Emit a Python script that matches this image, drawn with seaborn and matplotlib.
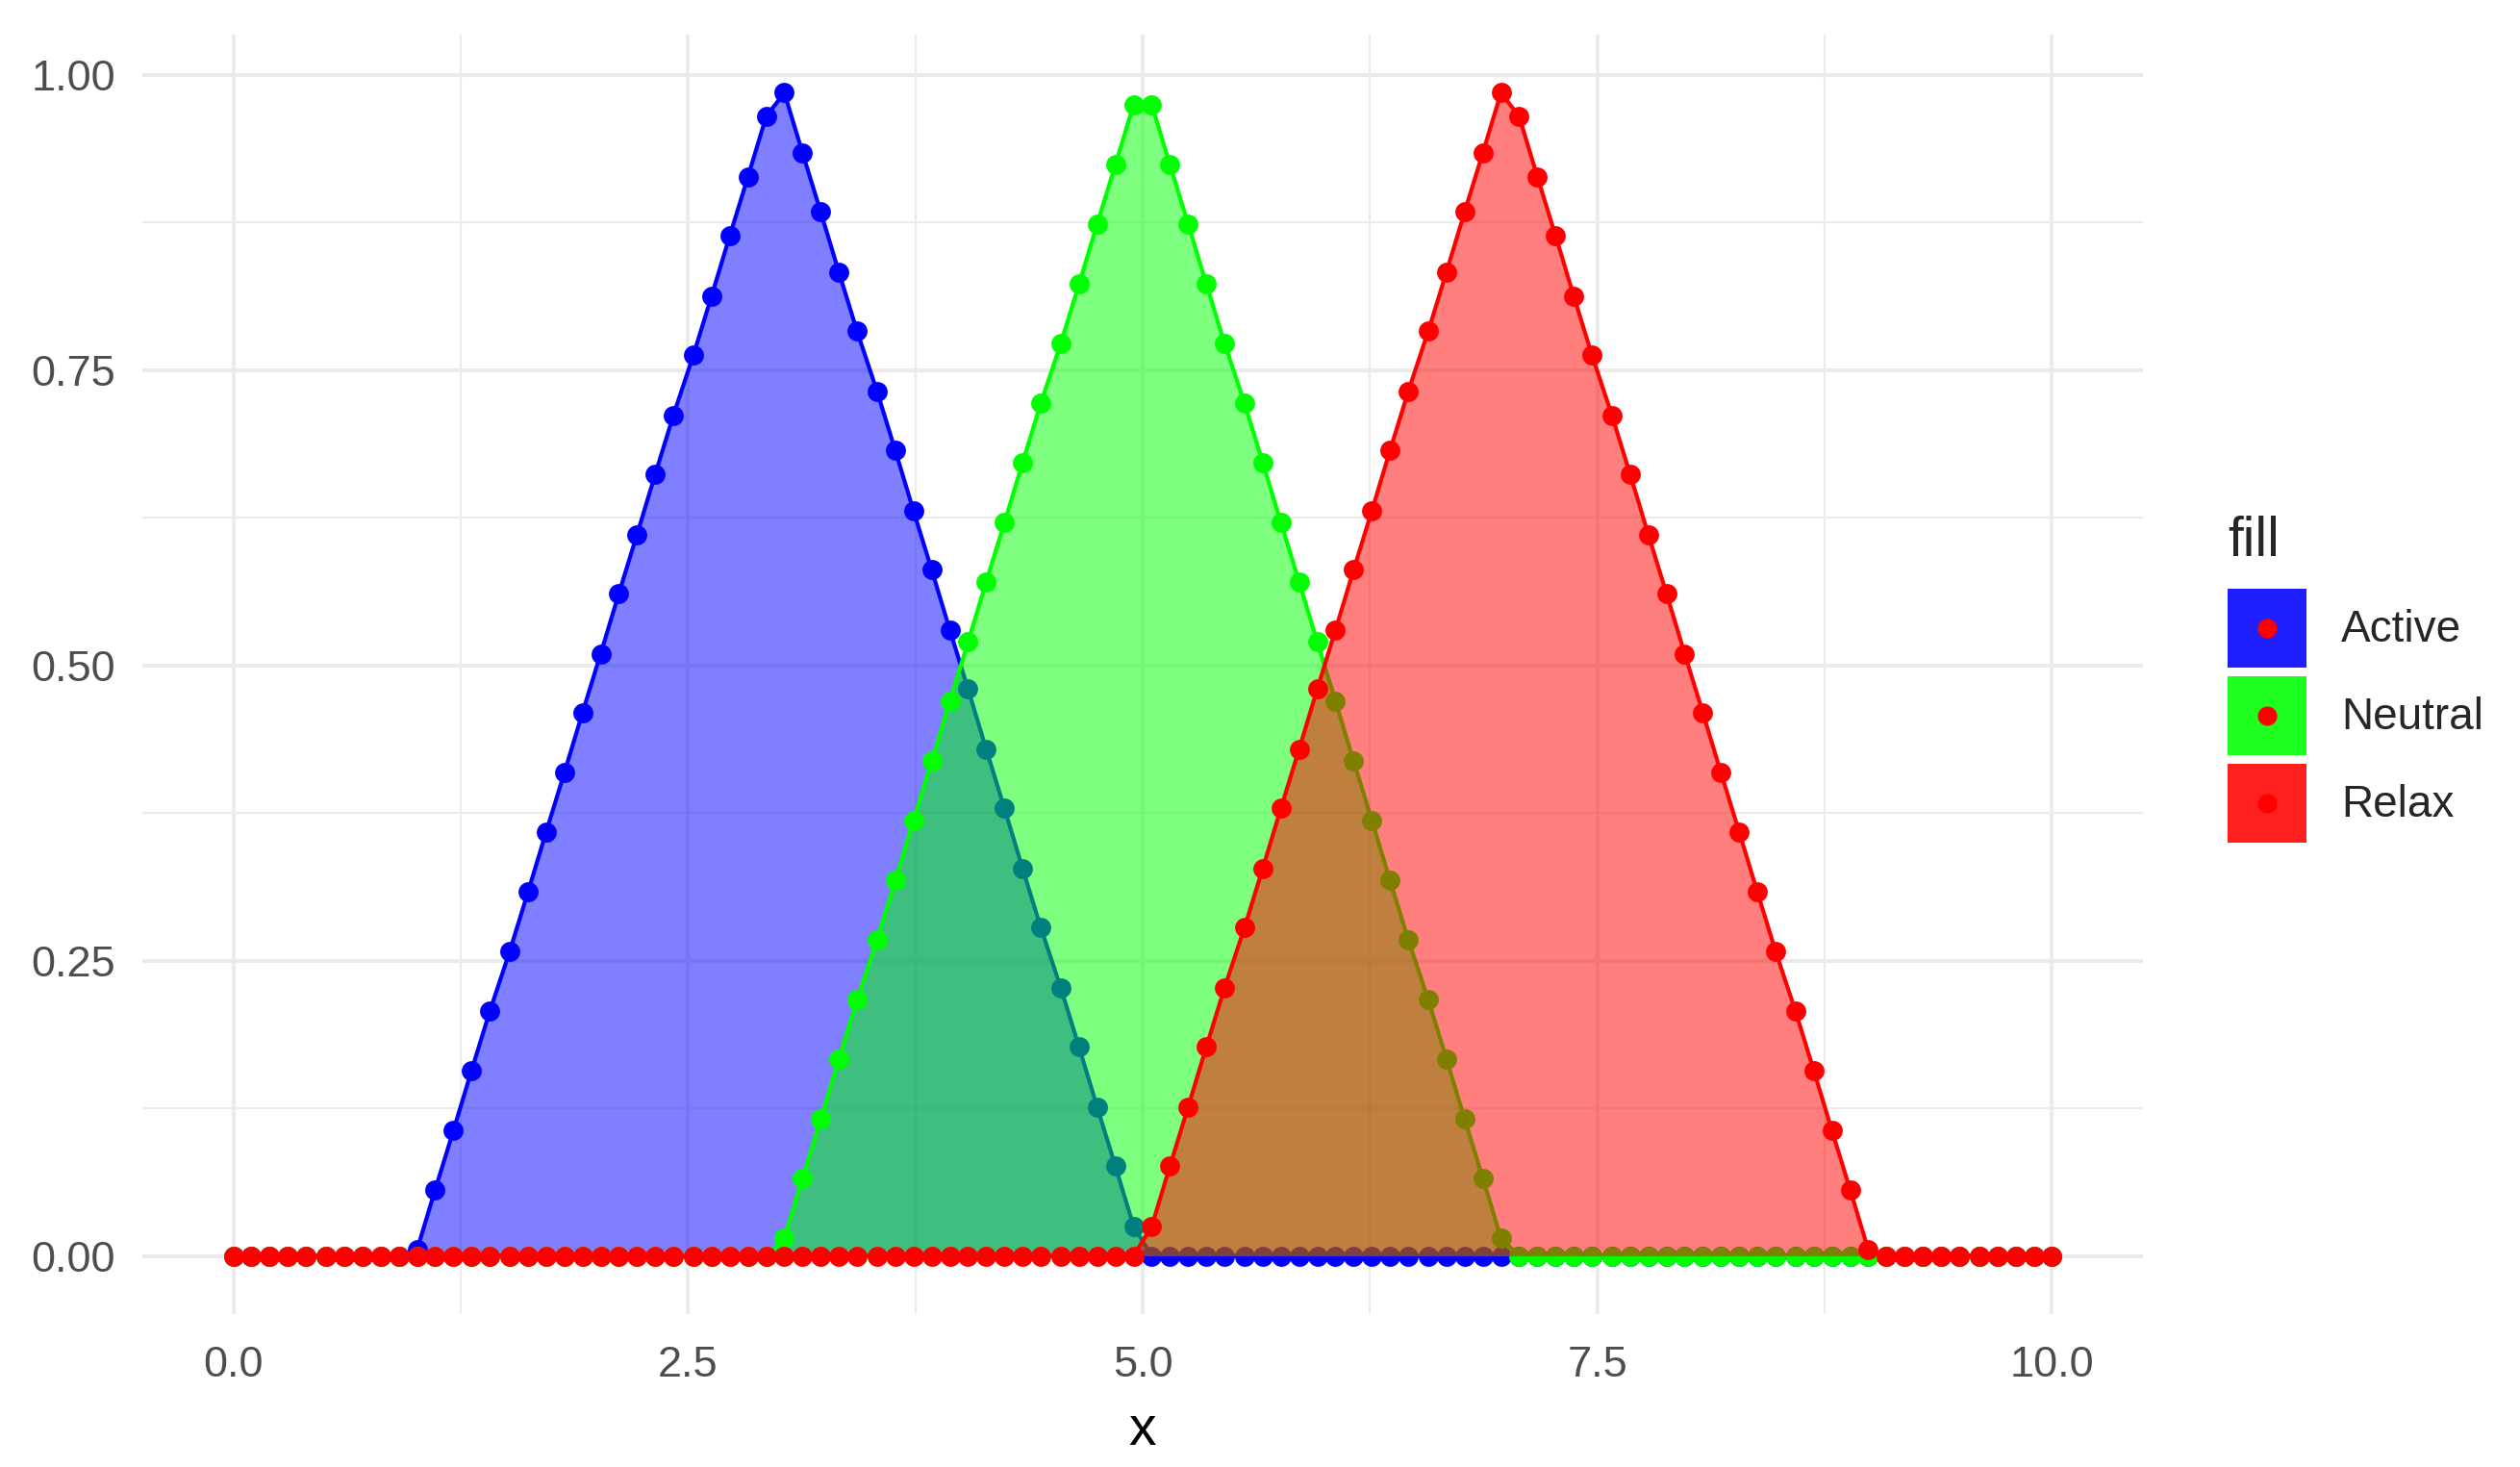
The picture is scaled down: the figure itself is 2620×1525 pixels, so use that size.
import numpy as np
import pandas as pd
import seaborn as sns
import matplotlib
matplotlib.use('Agg')
import matplotlib.pyplot as plt
from matplotlib.patches import Patch, Rectangle
from matplotlib.lines import Line2D
from matplotlib.legend_handler import HandlerBase

# x grid (100 points from 0 to 10)
x_vals = [0.00, 0.10, 0.20, 0.30, 0.40, 0.51, 0.61, 0.71, 0.81, 0.91,
          1.01, 1.11, 1.21, 1.31, 1.41, 1.52, 1.62, 1.72, 1.82, 1.92,
          2.02, 2.12, 2.22, 2.32, 2.42, 2.53, 2.63, 2.73, 2.83, 2.93,
          3.03, 3.13, 3.23, 3.33, 3.43, 3.54, 3.64, 3.74, 3.84, 3.94,
          4.04, 4.14, 4.24, 4.34, 4.44, 4.55, 4.65, 4.75, 4.85, 4.95,
          5.05, 5.15, 5.25, 5.35, 5.45, 5.56, 5.66, 5.76, 5.86, 5.96,
          6.06, 6.16, 6.26, 6.36, 6.46, 6.57, 6.67, 6.77, 6.87, 6.97,
          7.07, 7.17, 7.27, 7.37, 7.47, 7.58, 7.68, 7.78, 7.88, 7.98,
          8.08, 8.18, 8.28, 8.38, 8.48, 8.59, 8.69, 8.79, 8.89, 8.99,
          9.09, 9.19, 9.29, 9.39, 9.49, 9.60, 9.70, 9.80, 9.90, 10.00]

active = ([0.0] * 10 +
          [0.005, 0.056, 0.106, 0.157, 0.207, 0.258, 0.308, 0.359, 0.409, 0.460,
           0.510, 0.561, 0.611, 0.662, 0.712, 0.763, 0.813, 0.864, 0.914, 0.965,
           0.985, 0.934, 0.884, 0.833, 0.783, 0.732, 0.682, 0.631, 0.581, 0.530,
           0.480, 0.429, 0.379, 0.328, 0.278, 0.227, 0.177, 0.126, 0.076, 0.025] +
          [0.0] * 50)

neutral = ([0.0] * 30 +
           [0.015, 0.066, 0.116, 0.167, 0.217, 0.268, 0.318, 0.369, 0.419, 0.470,
            0.520, 0.571, 0.621, 0.672, 0.722, 0.773, 0.823, 0.874, 0.924, 0.975,
            0.975, 0.924, 0.874, 0.823, 0.773, 0.722, 0.672, 0.621, 0.571, 0.520,
            0.470, 0.419, 0.369, 0.318, 0.268, 0.217, 0.167, 0.116, 0.066, 0.015] +
           [0.0] * 30)

relax = ([0.0] * 50 +
         [0.025, 0.076, 0.126, 0.177, 0.227, 0.278, 0.328, 0.379, 0.429, 0.480,
          0.530, 0.581, 0.631, 0.682, 0.732, 0.783, 0.833, 0.884, 0.934, 0.985,
          0.965, 0.914, 0.864, 0.813, 0.763, 0.712, 0.662, 0.611, 0.561, 0.510,
          0.460, 0.409, 0.359, 0.308, 0.258, 0.207, 0.157, 0.106, 0.056, 0.005] +
         [0.0] * 10)

series_names = ['Active', 'Neutral', 'Relax']
series_colors = ['#0000ff', '#00ff00', '#ff0000']
legend_colors = ['#1f1fff', '#1fff1f', '#ff1f1f']

df = pd.concat([pd.DataFrame({'x': x_vals, 'y': v, 'fill': n})
                for n, v in zip(series_names, [active, neutral, relax])],
               ignore_index=True)


# legend key: filled square with a red dot in its centre
class KeyHandler(HandlerBase):
    def create_artists(self, legend, orig_handle, xdescent, ydescent,
                       width, height, fontsize, trans):
        sq = Rectangle((-xdescent, -ydescent), width, height,
                       facecolor=orig_handle.get_facecolor(), edgecolor='none',
                       transform=trans)
        dot = Line2D([width / 2 - xdescent], [height / 2 - ydescent], marker='o',
                     color='#ff0000', linestyle='none', markersize=14.5,
                     markeredgewidth=0, transform=trans)
        return [sq, dot]


sns.set_theme(style='white')
plt.rcParams['font.family'] = ['Liberation Sans', 'DejaVu Sans']

fig = plt.figure(figsize=(26.2, 15.25), dpi=100)
ax = fig.add_axes([148 / 2620, 1 - 1366 / 1525, (2228 - 148) / 2620, (1366 - 36) / 1525])

z = 3
for name, col in zip(series_names, series_colors):
    d = df[df['fill'] == name]
    ax.fill_between(d['x'], d['y'], 0, color=col, alpha=0.5, linewidth=0, zorder=z)
    sns.lineplot(x=d['x'].values, y=d['y'].values, color=col, linewidth=3.0,
                 ax=ax, zorder=z + 1, sort=False)
    sns.scatterplot(x=d['x'].values, y=d['y'].values, color=col, s=225,
                    linewidth=0, ax=ax, zorder=z + 2)
    z += 3

ax.set_xlim(-0.5, 10.5)
ax.set_ylim(-0.04925, 1.03425)
ax.set_xticks([0, 2.5, 5, 7.5, 10])
ax.set_xticklabels(['0.0', '2.5', '5.0', '7.5', '10.0'])
ax.set_yticks([0, 0.25, 0.5, 0.75, 1.0])
ax.set_yticklabels(['0.00', '0.25', '0.50', '0.75', '1.00'])
ax.set_xticks([1.25, 3.75, 6.25, 8.75], minor=True)
ax.set_yticks([0.125, 0.375, 0.625, 0.875], minor=True)
ax.grid(which='major', color='#ebebeb', linewidth=2.9)
ax.grid(which='minor', color='#ebebeb', linewidth=1.45)
ax.set_axisbelow(True)
for s in ax.spines.values():
    s.set_visible(False)
ax.tick_params(which='both', length=0)
ax.tick_params(axis='x', labelsize=32.5, labelcolor='#4d4d4d', pad=24)
ax.tick_params(axis='y', labelsize=32.5, labelcolor='#4d4d4d', pad=20)
ax.set_xlabel('x', fontsize=41, color='black', labelpad=14)
ax.set_ylabel('')

handles = [Patch(facecolor=c, edgecolor='none') for c in legend_colors]
leg = fig.legend(handles, series_names, handler_map={Patch: KeyHandler()},
                 title='fill', title_fontsize=41, fontsize=33, alignment='left',
                 loc='upper left', bbox_to_anchor=(2316 / 2620, 1 - 536 / 1525),
                 frameon=False, borderpad=0, borderaxespad=0,
                 handlelength=1.79, handleheight=2.37, labelspacing=0.2,
                 handletextpad=0.78)
leg._legend_box.sep = 16

fig.savefig('out.png', dpi=100, facecolor='white')
